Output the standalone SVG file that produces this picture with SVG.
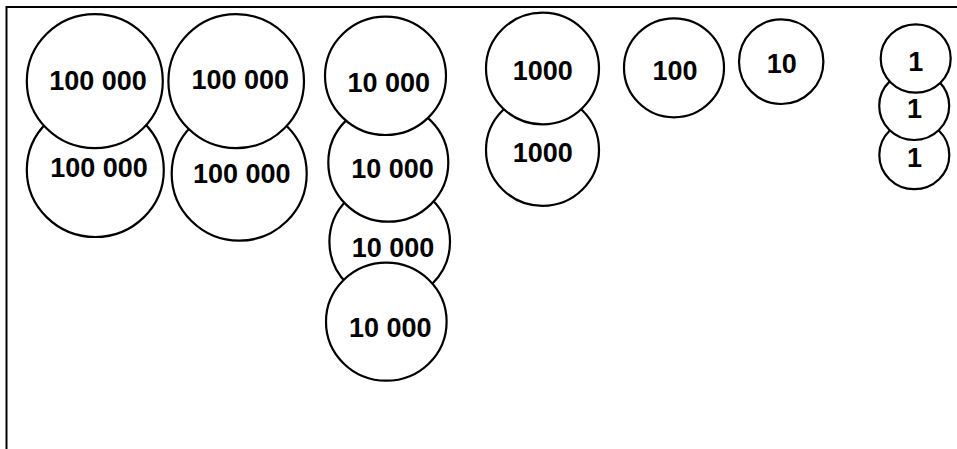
<svg xmlns="http://www.w3.org/2000/svg" width="957" height="449" viewBox="0 0 957 449">
  <style>
    .coin { fill: #fff; stroke: #000; stroke-width: 2.2; }
    .val { font-family: 'Liberation Sans', sans-serif; font-weight: bold; font-size: 27px; text-anchor: middle; fill: #000; }
    .frame { fill: none; stroke: #000; stroke-width: 2; }
  </style>
  <rect width="957" height="449" fill="#fff"/>
  <!-- outer frame: left and top edges only -->
  <path class="frame" d="M6.5,449 V7 H957"/>

  <!-- column 1: 100 000 -->
  <g id="coin-100000-b1">
    <ellipse class="coin" cx="95.3" cy="170" rx="68.5" ry="67"/>
    <text class="val" x="99" y="177">100 000</text>
  </g>
  <g id="coin-100000-a1">
    <ellipse class="coin" cx="94.8" cy="81.2" rx="68" ry="67"/>
    <text class="val" x="98" y="90">100 000</text>
  </g>

  <!-- column 2: 100 000 -->
  <g id="coin-100000-b2">
    <ellipse class="coin" cx="239.2" cy="173.7" rx="67.5" ry="67"/>
    <text class="val" x="241.7" y="182.5">100 000</text>
  </g>
  <g id="coin-100000-a2">
    <ellipse class="coin" cx="236.2" cy="81.2" rx="67.8" ry="67"/>
    <text class="val" x="240.3" y="89">100 000</text>
  </g>

  <!-- column 3: 10 000 -->
  <g id="coin-10000-c">
    <ellipse class="coin" cx="389.7" cy="241.8" rx="60.3" ry="59.2"/>
    <text class="val" x="393" y="257">10 000</text>
  </g>
  <g id="coin-10000-b">
    <ellipse class="coin" cx="388.3" cy="162.5" rx="60" ry="59.2"/>
    <text class="val" x="392.5" y="178">10 000</text>
  </g>
  <g id="coin-10000-d">
    <ellipse class="coin" cx="386.3" cy="321.7" rx="60.3" ry="59"/>
    <text class="val" x="390.3" y="337">10 000</text>
  </g>
  <g id="coin-10000-a">
    <ellipse class="coin" cx="385.5" cy="75.8" rx="60.5" ry="59.2"/>
    <text class="val" x="388.8" y="91.5">10 000</text>
  </g>

  <!-- column 4: 1000 -->
  <g id="coin-1000-b">
    <ellipse class="coin" cx="542.5" cy="150" rx="56.5" ry="55.8"/>
    <text class="val" x="542.7" y="161.5">1000</text>
  </g>
  <g id="coin-1000-a">
    <ellipse class="coin" cx="542.5" cy="68.5" rx="56.5" ry="55.8"/>
    <text class="val" x="542.7" y="80">1000</text>
  </g>

  <!-- 100 -->
  <g id="coin-100">
    <ellipse class="coin" cx="674" cy="67.8" rx="50" ry="49.5"/>
    <text class="val" x="675" y="80">100</text>
  </g>

  <!-- 10 -->
  <g id="coin-10">
    <ellipse class="coin" cx="781.2" cy="61.7" rx="42.2" ry="42.3"/>
    <text class="val" x="781.7" y="72.7">10</text>
  </g>

  <!-- column 7: 1 -->
  <g id="coin-1-c">
    <ellipse class="coin" cx="914.3" cy="155" rx="35" ry="34.2"/>
    <text class="val" x="914.5" y="166.5">1</text>
  </g>
  <g id="coin-1-b">
    <ellipse class="coin" cx="914.2" cy="105.8" rx="35" ry="34.2"/>
    <text class="val" x="914.5" y="118">1</text>
  </g>
  <g id="coin-1-a">
    <ellipse class="coin" cx="915.7" cy="58.5" rx="35" ry="34.2"/>
    <text class="val" x="915.7" y="70.5">1</text>
  </g>
</svg>
